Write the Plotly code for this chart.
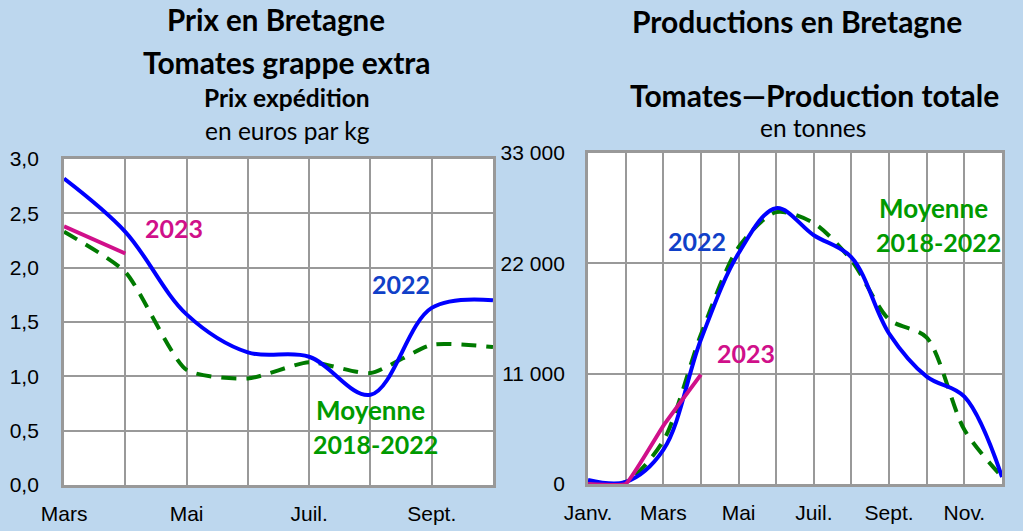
import plotly.graph_objects as go

# ---- Left panel: prices (euros/kg), March..October
months_left = ["Mars", "Avr.", "Mai", "Juin", "Juil.", "Août", "Sept.", "Oct."]
left_ticktext = ["Mars", "", "Mai", "", "Juil.", "", "Sept.", ""]
price_2022 = [2.82, 2.33, 1.57, 1.22, 1.18, 0.83, 1.63, 1.70]
price_moy = [2.33, 1.96, 1.06, 0.98, 1.13, 1.03, 1.29, 1.27]
price_2023 = [2.38, 2.13]

# ---- Right panel: production (tonnes), January..December
months_right = ["Janv.", "Févr.", "Mars", "Avr.", "Mai", "Juin", "Juil.", "Août", "Sept.", "Oct.", "Nov.", "Déc."]
right_ticktext = ["Janv.", "", "Mars", "", "Mai", "", "Juil.", "", "Sept.", "", "Nov.", ""]
prod_2022 = [400, 200, 3400, 14400, 23000, 27500, 24800, 22600, 15000, 10700, 8700, 700]
prod_moy = [0, 200, 4300, 14900, 23600, 27100, 26000, 22300, 16400, 14600, 5400, 700]
prod_2023 = [0, 0, 5800, 10900]
right_tickvals = [0, 11000, 22000, 33000]
right_ticklabels = ["0", "11 000", "22 000", "33 000"]

BLUE = "#0000FF"
GREEN_LINE = "#007A00"
GREEN_TXT = "#009A00"
PINK = "#D0108A"
BLUE_TXT = "#1040C8"
GRID = "#999999"
BG = "#BDD7EE"
TITLE_FONT = "Lato"
TICK_FONT = "Liberation Sans"

fig = go.Figure()

fig.add_trace(go.Scatter(x=months_left, y=price_moy, mode="lines",
                         line=dict(color=GREEN_LINE, width=4, dash="15px,10px", shape="spline", smoothing=0.6),
                         xaxis="x", yaxis="y", showlegend=False))
fig.add_trace(go.Scatter(x=months_left, y=price_2022, mode="lines",
                         line=dict(color=BLUE, width=4, shape="spline", smoothing=1.0),
                         xaxis="x", yaxis="y", showlegend=False))
fig.add_trace(go.Scatter(x=months_left[:len(price_2023)], y=price_2023, mode="lines",
                         line=dict(color=PINK, width=4),
                         xaxis="x", yaxis="y", showlegend=False))

fig.add_trace(go.Scatter(x=months_right, y=prod_moy, mode="lines",
                         line=dict(color=GREEN_LINE, width=4, dash="15px,10px", shape="spline", smoothing=0.8),
                         xaxis="x2", yaxis="y2", showlegend=False))
fig.add_trace(go.Scatter(x=months_right, y=prod_2022, mode="lines",
                         line=dict(color=BLUE, width=4, shape="spline", smoothing=1.0),
                         xaxis="x2", yaxis="y2", showlegend=False))
fig.add_trace(go.Scatter(x=months_right[:len(prod_2023)], y=prod_2023, mode="lines",
                         line=dict(color=PINK, width=4, shape="spline", smoothing=0.3),
                         xaxis="x2", yaxis="y2", showlegend=False))

axis_common = dict(showgrid=True, gridcolor=GRID, gridwidth=2, showline=True, linecolor=GRID,
                   linewidth=3, mirror=True, zeroline=False, ticks="", automargin=False,
                   tickfont=dict(family=TICK_FONT, size=21, color="black"), fixedrange=True)

fig.update_layout(
    width=1023, height=531, autosize=False,
    margin=dict(l=0, r=0, t=0, b=0),
    paper_bgcolor=BG, plot_bgcolor="white",
    separators=", ",
    xaxis=dict(axis_common, domain=[0.0626, 0.4819], type="category",
               range=[0, 7], tickvals=months_left, ticktext=left_ticktext,
               ticklabelstandoff=8, anchor="y"),
    yaxis=dict(axis_common, domain=[0.0866, 0.7006], range=[0, 3.0],
               tickvals=[0, 0.5, 1.0, 1.5, 2.0, 2.5, 3.0], tickformat=".1f",
               ticklabelstandoff=18, anchor="x"),
    xaxis2=dict(axis_common, domain=[0.5748, 0.9795], type="category",
                range=[0, 11], tickvals=months_right, ticktext=right_ticktext,
                ticklabelstandoff=8, anchor="y2"),
    yaxis2=dict(axis_common, domain=[0.0885, 0.7119], range=[0, 33000],
                tickvals=right_tickvals, ticktext=right_ticklabels,
                ticklabelstandoff=16, anchor="x2"),
)

def ann(text, x, y, size, color="black", bold=True):
    fig.add_annotation(text=f"<b>{text}</b>" if bold else text, x=x / 1023, y=1 - y / 531,
                       xref="paper", yref="paper", showarrow=False, xanchor="center", yanchor="middle",
                       font=dict(family=TITLE_FONT, size=size, color=color))

# Titles
ann("Prix en Bretagne", 276, 20, 29.5)
ann("Tomates grappe extra", 287, 62, 30)
ann("Prix expédition", 287, 97, 24.5)
ann("en euros par kg", 287, 130, 24.5, bold=False)
ann("Productions en Bretagne", 797, 21, 30)
ann("Tomates\u2014Production totale", 814, 95, 30)
ann("en tonnes", 813, 128, 24.5, bold=False)

# Series labels
ann("2023", 174, 228, 25, PINK)
ann("2022", 401, 284, 25, BLUE_TXT)
ann("Moyenne", 370, 410, 26, GREEN_TXT)
ann("2018-2022", 375, 444, 25, GREEN_TXT)
ann("2022", 697, 241, 25, BLUE_TXT)
ann("2023", 746, 353, 25, PINK)
ann("Moyenne", 933, 208, 26, GREEN_TXT)
ann("2018-2022", 938, 242, 25, GREEN_TXT)

fig.write_html("out.html", config={"displayModeBar": False},
               post_script="document.body.style.margin='0';document.body.style.background='#BDD7EE';")
